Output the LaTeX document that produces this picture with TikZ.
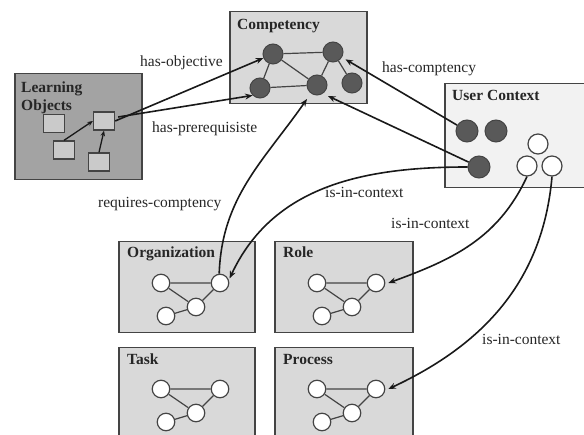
\documentclass[tikz,border=0pt]{standalone}
\usepackage{fontspec}
\setmainfont{Liberation Serif}
\usetikzlibrary{arrows.meta}
\definecolor{boxline}{HTML}{444444}
\definecolor{lofill}{HTML}{A3A3A3}
\definecolor{sqfill}{HTML}{CACACA}
\definecolor{compfill}{HTML}{D9D9D9}
\definecolor{ucfill}{HTML}{F2F2F2}
\definecolor{darkc}{HTML}{595959}
\begin{document}
\begin{tikzpicture}[x=1pt,y=-1pt,
  box/.style={draw=boxline,line width=1.5pt,inner sep=0pt,anchor=north west},
  sq/.style={draw=boxline,line width=1.3pt,fill=sqfill,inner sep=0pt,minimum width=21pt,minimum height=18pt},
  dc/.style={circle,draw=boxline,line width=1pt,fill=darkc,inner sep=0pt,minimum size=20pt},
  udc/.style={circle,draw=boxline,line width=1pt,fill=darkc,inner sep=0pt,minimum size=22pt},
  wc/.style={circle,draw=boxline,line width=1.2pt,fill=white,inner sep=0pt,minimum size=17.5pt},
  uwc/.style={circle,draw=boxline,line width=1.2pt,fill=white,inner sep=0pt,minimum size=20pt},
  edge/.style={draw=boxline,line width=1.2pt},
  arr/.style={-{Stealth[length=7.5pt,width=6pt]},line width=1.6pt,draw=black!90},
  title/.style={font=\fontsize{15.5pt}{18pt}\selectfont\bfseries,inner sep=0pt,anchor=base west,text=black!85},
  lbl/.style={font=\fontsize{15.5pt}{18pt}\selectfont,inner sep=0pt,anchor=base west,text=black!85},
  ctx/.pic={
    \node[wc] (-a) at (43,42) {};
    \node[wc] (-b) at (102,42) {};
    \node[wc] (-c) at (78,66) {};
    \node[wc] (-d) at (48,75) {};
    \draw[edge] (-a) -- (-b) (-a) -- (-c) (-c) -- (-b) (-d) -- (-c);
  }]
\useasboundingbox (0,0) rectangle (584,435);
\clip (0,0) rectangle (584,435);
% boxes
\node[box,fill=lofill,minimum width=127pt,minimum height=106pt] (lo) at (14,73) {};
\node[box,fill=compfill,minimum width=137pt,minimum height=92pt] (comp) at (229,11) {};
\node[box,fill=ucfill,minimum width=142pt,minimum height=104pt] (uc) at (444,83) {};
\node[box,fill=compfill,minimum width=136pt,minimum height=91pt] (org) at (118,241) {};
\node[box,fill=compfill,minimum width=138pt,minimum height=91pt] (role) at (274,241) {};
\node[box,fill=compfill,minimum width=136pt,minimum height=100pt] (task) at (118,347) {};
\node[box,fill=compfill,minimum width=138pt,minimum height=100pt] (proc) at (274,347) {};
% titles
\node[title,align=left,anchor=north west] (lot) at (21,81.5) {Learning\\Objects};
\node[title] (compt) at (237,30) {Competency};
\node[title] (uct) at (452,101) {User Context};
\node[title] (orgt) at (127,258) {Organization};
\node[title] (rolet) at (283,258) {Role};
\node[title] (taskt) at (127,365) {Task};
\node[title] (proct) at (283,365) {Process};
% learning objects
\node[sq] (s1) at (54,123.5) {};
\node[sq] (s2) at (104,121) {};
\node[sq] (s3) at (64,150) {};
\node[sq] (s4) at (99,162) {};
\draw[-{Stealth[length=5.5pt,width=4.5pt]},line width=1.3pt,draw=black!90] (s3.north) -- (s2.west);
\draw[-{Stealth[length=5.5pt,width=4.5pt]},line width=1.3pt,draw=black!90] (s4.north) -- (s2.south);
% competency graph
\node[dc] (c1) at (273,54) {};
\node[dc] (c2) at (333,52) {};
\node[dc] (c3) at (260,88) {};
\node[dc] (c4) at (317,85) {};
\node[dc] (c5) at (352,83) {};
\draw[edge] (c1) -- (c2) (c1) -- (c3) (c1) -- (c4) (c3) -- (c4) (c2) -- (c4) (c2) -- (c5);
% user context
\node[udc] (u1) at (467,131) {};
\node[udc] (u2) at (496,131) {};
\node[udc] (u3) at (479,167) {};
\node[uwc] (w1) at (538,144) {};
\node[uwc] (w2) at (527,166) {};
\node[uwc] (w3) at (552,166) {};
% context graphs
\pic (og) at (118,241) {ctx};
\pic (rg) at (274,241) {ctx};
\pic (tg) at (118,347) {ctx};
\pic (pg) at (274,347) {ctx};
% free ends
\coordinate (rq) at (307,99);
\coordinate (uq) at (328,96);
% connectors
\draw[arr] (s2.east) -- (c1);
\draw[arr] ([xshift=3pt,yshift=4pt]s2.east) -- (c3.225);
\draw[arr,shorten >=4pt] (u1) -- (c2);
\draw[arr] (u3) -- (uq);
\draw[arr] (og-b.95) to[out=88,in=235] (rq);
\draw[arr] (u3.west) to[out=180,in=65] ([xshift=3pt,yshift=-2pt]og-b.north east);
\draw[arr] (w2.south) to[out=-115,in=20] ([xshift=3pt]rg-b.east);
\draw[arr] (w3.south) to[out=-95,in=25] ([xshift=3pt]pg-b.east);
% labels
\node[lbl] (l1) at (140,67) {has-objective};
\node[lbl] (l2) at (152,133) {has-prerequisiste};
\node[lbl] (l3) at (98,208) {requires-comptency};
\node[lbl] (l4) at (325,198) {is-in-context};
\node[lbl] (l5) at (382,73) {has-comptency};
\node[lbl] (l6) at (391,229) {is-in-context};
\node[lbl] (l7) at (482,345) {is-in-context};
\end{tikzpicture}
\end{document}
